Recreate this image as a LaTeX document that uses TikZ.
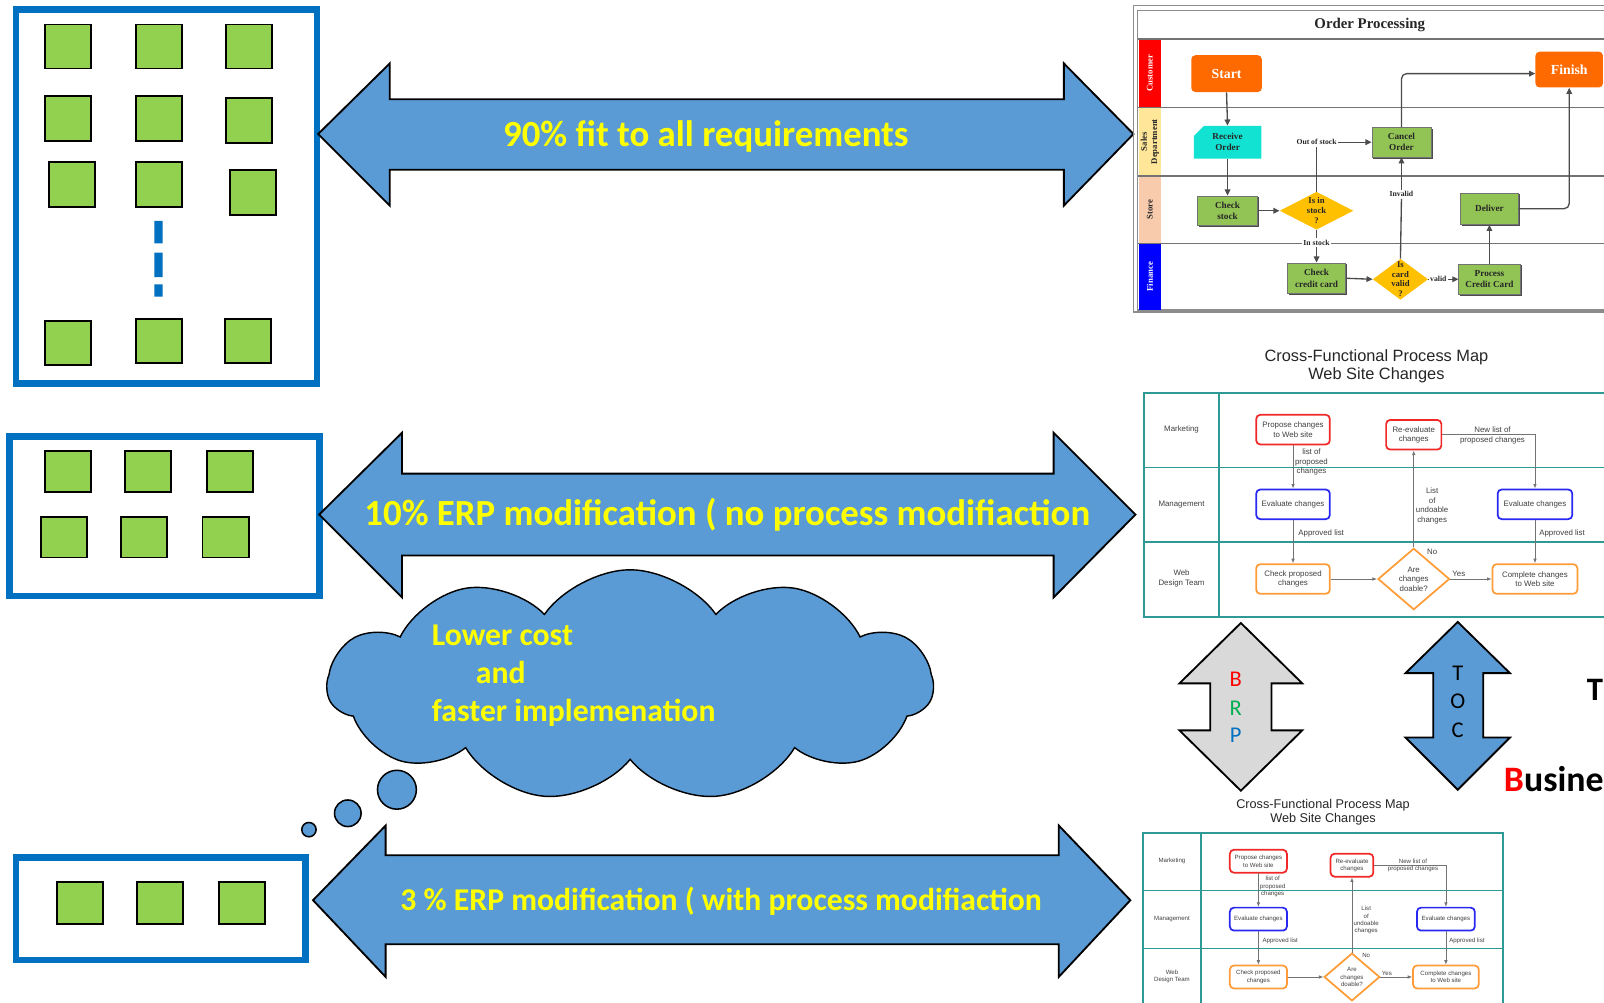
\documentclass[tikz,border=0pt]{standalone}
\usepackage{fontspec}
\setmainfont{Carlito}
\newfontfamily\arialf{Liberation Sans}
\newfontfamily\timesf{Liberation Serif}
\usetikzlibrary{shapes.geometric,shapes.symbols,shapes.misc,arrows.meta,shadows}
\definecolor{arrowblue}{HTML}{5B9BD5}
\definecolor{boxblue}{HTML}{0070C0}
\definecolor{sqgreen}{HTML}{92D050}
\definecolor{mapteal}{HTML}{2E9A96}
\definecolor{mapred}{HTML}{F02828}
\definecolor{mapblue}{HTML}{2828F0}
\definecolor{maporange}{HTML}{FF9C38}
\definecolor{oporange}{HTML}{FF6A00}
\definecolor{opcyan}{HTML}{12E2D2}
\definecolor{opgreen}{HTML}{92C355}
\definecolor{opgold}{HTML}{FFC000}
\definecolor{salesy}{HTML}{FFE699}
\definecolor{storep}{HTML}{F8CBAD}
\definecolor{brpgray}{HTML}{D9D9D9}
\definecolor{txtyellow}{HTML}{FFFF00}
\definecolor{brpgreen}{HTML}{00B050}
\newcommand{\fsz}[2]{\fontsize{#1}{#2}\selectfont}
\tikzset{
  frame/.style={draw=boxblue, line width=6.5},
  sq/.style={draw=black, line width=1.8, fill=sqgreen},
  bigarrow/.style={draw=black, line width=1.8, fill=arrowblue, line join=miter},
  arrowtext/.style={text=txtyellow, font=\bfseries\fsz{36}{40}, anchor=base, inner sep=0},
  cloudtext/.style={text=txtyellow, font=\bfseries\fsz{31}{35}, anchor=base west, inner sep=0},
  bubble/.style={circle, draw=black, line width=1.5, fill=arrowblue, inner sep=0},
  vertarrow/.style={draw=black, line width=1.8, line join=miter},
  letter/.style={font=\fsz{22}{24}, inner sep=0},
  opframe/.style={draw=black!45, line width=1.2},
  oplane/.style={draw=black!55, line width=1.3},
  optitle/.style={font=\timesf\bfseries\fsz{14.5}{16}, text=black!85, inner sep=0},
  oplanelab/.style={font=\timesf\bfseries\fsz{8.5}{10}, align=center, inner sep=0},
  optxt/.style={font=\timesf\bfseries\fsz{9}{11}, align=center, text=black!85, inner sep=1},
  opgbox/.style={optxt, rectangle, fill=opgreen, draw=black!55, line width=0.6,
     drop shadow={shadow xshift=1.5pt, shadow yshift=-1.5pt, fill=black!70, opacity=1}},
  opcard/.style={optxt, chamfered rectangle, chamfered rectangle corners=north west,
     chamfered rectangle xsep=5pt, chamfered rectangle ysep=5pt, fill=opcyan, inner sep=0},
  opterm/.style={rectangle, rounded corners=4, fill=oporange, text=white, font=\timesf\bfseries\fsz{13.5}{15}},
  opdia/.style={diamond, fill=opgold, inner sep=0},
  opdiatxt/.style={font=\timesf\bfseries\fsz{8.5}{9.5}, align=center, text=black!85, inner sep=0},
  oplab/.style={font=\timesf\bfseries\fsz{7.5}{9}, fill=white, inner sep=1.5, text=black!85},
  opline/.style={draw=black!70, line width=1.3},
  oparr/.style={opline, -{Triangle[length=6pt,width=5.5pt]}},
  mapframe/.style={draw=mapteal, line width=1.8},
  maptitle/.style={font=\arialf\fsz{16}{18}, text=black!85, inner sep=0},
  maptxt/.style={font=\arialf\fsz{7.7}{9.3}, text=black!75, align=center, inner sep=0},
  mapbox/.style={maptxt, rectangle, rounded corners=4, line width=1.7, fill=white, minimum height=29, inner sep=2},
  mapdia/.style={diamond, draw=maporange, line width=1.7, fill=white, minimum width=70, minimum height=60, inner sep=0},
  maparr/.style={draw=black!55, line width=0.8, -{Latex[length=4.5pt,width=3.5pt]}},
}
\newcommand{\webmap}[1]{%
  \draw[mapframe] (0,0) rectangle (454,219);
  \draw[mapframe] (0,73) -- (454,73) (0,146) -- (454,146) (74,0) -- (74,219);
  \node[maptitle] (#1t1) at (227.5,-35) {Cross-Functional Process Map};
  \node[maptitle] (#1t2) at (227.5,-17.5) {Web Site Changes};
  \node[maptxt] (#1l1) at (37,36) {Marketing};
  \node[maptxt] (#1l2) at (37,109) {Management};
  \node[maptxt] (#1l3) at (37,181.5) {Web\\Design Team};
  \node[mapbox, draw=mapred, minimum width=72] (#1prop) at (146,36) {Propose changes\\to Web site};
  \node[mapbox, draw=mapred, minimum width=54] (#1rev) at (264,41) {Re-evaluate\\changes};
  \node[mapbox, draw=mapblue, minimum width=72] (#1evl) at (146,109) {Evaluate changes};
  \node[mapbox, draw=mapblue, minimum width=73] (#1evr) at (382.5,109) {Evaluate changes};
  \node[mapbox, draw=maporange, minimum width=72] (#1chk) at (146,182) {Check proposed\\changes};
  \node[mapdia] (#1dia) at (264,182) {};
  \node[maptxt] (#1diat) at (264,182) {Are\\changes\\doable?};
  \node[mapbox, draw=maporange, minimum width=83] (#1cmp) at (382.5,182) {Complete changes\\to Web site};
  \draw[maparr] (#1prop.south) -- (#1evl.north);
  \draw[maparr] (#1evl.south) -- (#1chk.north);
  \draw[maparr] (#1chk.east) -- (#1dia.west);
  \draw[maparr] (#1dia.north) -- (#1rev.south);
  \draw[maparr] (#1rev.east) -| (#1evr.north);
  \draw[maparr] (#1dia.east) -- (#1cmp.west);
  \draw[maparr] (#1evr.south) -- (#1cmp.north);
  \node[maptxt] (#1e1) at (164,68) {list of\\proposed\\changes};
  \node[maptxt] (#1e2) at (173.5,137) {Approved list};
  \node[maptxt] (#1e3) at (282,110.5) {List\\of\\undoable\\changes};
  \node[maptxt] (#1e4) at (282,155) {No};
  \node[maptxt] (#1e5) at (341,41.5) {New list of\\proposed changes};
  \node[maptxt] (#1e6) at (308,177) {Yes};
  \node[maptxt] (#1e7) at (409,137) {Approved list};
}
\begin{document}
\begin{tikzpicture}[x=1pt,y=-1pt]
\clip (0,0) rectangle (1568,980);
\fill[white] (0,0) rectangle (1568,980);
% ---------- left boxes ----------
\draw[frame] (15.5,9.5) rectangle (310,375);
\foreach \a/\b/\c/\d in {44/24/89/67, 133/24/178/67, 221/24/266/67,
  44/94/89/138, 133/94/178/138, 221/96/266/140,
  48/158/93/202, 133/158/178/202, 225/166/270/210,
  44/314/89/357, 133/312/178/355, 220/312/265/355}
  \draw[sq] (\a,\b) rectangle (\c,\d);
\fill[boxblue] (151,216) rectangle (159,238) (151,247) rectangle (159,271) (151,278) rectangle (159,290);
\draw[frame] (9.5,426.5) rectangle (312.5,582.5);
\foreach \a/\b/\c/\d in {44/441/89/481, 122/441/167/481, 202/441/247/481,
  40/505/85/545, 118/505/163/545, 198/505/243/545}
  \draw[sq] (\a,\b) rectangle (\c,\d);
\draw[frame] (15.5,838.5) rectangle (298.5,938.5);
\foreach \a/\b/\c/\d in {56/862/101/903, 134/862/179/903, 214/862/259/903}
  \draw[sq] (\a,\b) rectangle (\c,\d);
% ---------- big arrows ----------
\draw[bigarrow] (311,131) -- (381,62) -- (381,97) -- (1040,97) -- (1040,62) -- (1108,131)
  -- (1040,201) -- (1040,166) -- (381,166) -- (381,201) -- cycle;
\node[arrowtext] (t1) at (690,143) {90\% fit to all requirements};
\draw[bigarrow] (312,503) -- (393,423) -- (393,463) -- (1030,463) -- (1030,423) -- (1110,503)
  -- (1030,584) -- (1030,543) -- (393,543) -- (393,584) -- cycle;
\node[arrowtext] (t2) at (711,514) {10\% ERP modification ( no process modifiaction};
\draw[bigarrow] (306,880) -- (377,807) -- (377,836) -- (1035,836) -- (1035,807) -- (1105,880)
  -- (1035,955) -- (1035,923) -- (377,923) -- (377,955) -- cycle;
\node[arrowtext, font=\bfseries\fsz{31}{35}] (t3) at (705,890) {3 \% ERP modification ( with process modifiaction};
% ---------- cloud ----------
\node[cloud, cloud puffs=11, cloud puff arc=110, aspect=2.6, draw=black, line width=1.4,
  fill=arrowblue, minimum width=592, minimum height=226] (cloud) at (616,670) {};
\node[bubble, minimum size=38] (b1) at (388,772) {};
\node[bubble, minimum size=26] (b2) at (340,795) {};
\node[bubble, minimum size=14] (b3) at (302,811) {};
\node[cloudtext] (c1) at (422,631) {Lower cost};
\node[cloudtext] (c2) at (465,668) {and};
\node[cloudtext] (c3) at (422,705) {faster implemenation};
% ---------- Order Processing ----------
\draw[opframe] (1108,5) -- (1600,5);
\draw[opframe] (1108,5) -- (1108,305) -- (1600,305);
\draw[opframe] (1112,10) -- (1600,10);
\draw[opframe] (1112,10) -- (1112,303) -- (1600,303);
\node[optitle] (optitle) at (1339,24) {Order Processing};
\fill[red] (1113,38) rectangle (1135,105);
\fill[salesy] (1113,105) rectangle (1135,172);
\fill[storep] (1113,172) rectangle (1135,238);
\fill[blue] (1113,238) rectangle (1135,303);
\draw[oplane] (1112,38) -- (1600,38) (1112,105) -- (1600,105) (1112,172) -- (1600,172) (1112,238) -- (1600,238);
\node[oplanelab, rotate=90, text=white] (lc) at (1124,71.5) {Customer};
\node[oplanelab, rotate=90, text=black!85] (ls) at (1124,138.5) {Sales\\Department};
\node[oplanelab, rotate=90, text=black!85] (lst) at (1124,205) {Store};
\node[oplanelab, rotate=90, text=white] (lf) at (1124,270.5) {Finance};
\node[opterm, minimum width=69, minimum height=36] (start) at (1199,72) {Start};
\node[opterm, minimum width=66, minimum height=35] (finish) at (1534,68) {Finish};
\draw[fill=opgreen, draw=black!60, line width=0.6] (1219,123) rectangle (1230,135);
\node[opcard, minimum width=66, minimum height=32] (recv) at (1200,139) {Receive\\Order};
\node[opgbox, minimum width=58, minimum height=29] (cancel) at (1370,139) {Cancel\\Order};
\node[opgbox, minimum width=59, minimum height=29] (cstock) at (1200,206) {Check\\stock};
\node[opdia, minimum width=72, minimum height=37] (d1) at (1287,206) {};
\node[opdiatxt] (d1t) at (1287,206) {Is in\\stock\\?};
\node[opgbox, minimum width=56, minimum height=31] (deliver) at (1456,204) {Deliver};
\node[opgbox, minimum width=57, minimum height=30] (ccard) at (1287,272) {Check\\credit card};
\node[opdia, minimum width=54, minimum height=40] (d2) at (1369,273) {};
\node[opdiatxt] (d2t) at (1369,273) {Is\\card\\valid\\?};
\node[opgbox, minimum width=60, minimum height=30] (pcc) at (1456,273) {Process\\Credit Card};
\draw[oparr] (start.south) -- (recv.north);
\draw[oparr] (recv.south) -- (cstock.north);
\draw[oparr] (cstock.east) -- (d1.west);
\node[oplab] (oos) at (1287,139) {Out of stock};
\draw[opline] (d1.north) -- (oos.south);
\draw[oparr] (oos.east) -- (cancel.west);
\node[oplab] (ins) at (1287,237) {In stock};
\draw[opline] (d1.south) -- (ins.north);
\draw[oparr] (ins.south) -- (ccard.north);
\draw[oparr] (ccard.east) -- (d2.west);
\node[oplab] (inv) at (1370,190) {Invalid};
\draw[opline] (d2.north) -- (inv.south);
\draw[oparr] (inv.north) -- (cancel.south);
\node[oplab] (val) at (1406,273) {valid};
\draw[opline] (d2.east) -- (val.west);
\draw[oparr] (val.east) -- (pcc.west);
\draw[oparr] (pcc.north) -- (deliver.south);
\draw[oparr, rounded corners=5] (deliver.east) -| (finish.south);
\draw[oparr, rounded corners=5] (cancel.north) |- ([yshift=-4pt]finish.west);
% ---------- web maps ----------
\begin{scope}[shift={(1118,384)}]
  \webmap{ma}
\end{scope}
\begin{scope}[shift={(1117,814)}, scale=0.775, transform shape]
  \webmap{mb}
\end{scope}
% ---------- BRP / TOC ----------
\draw[vertarrow, fill=brpgray] (1213,609) -- (1273,668) -- (1243,668) -- (1243,714) -- (1273,714)
  -- (1213,773) -- (1153,714) -- (1183,714) -- (1183,668) -- (1153,668) -- cycle;
\node[letter, text=red] (lb) at (1208,664) {B};
\node[letter, text=brpgreen] (lr) at (1208,692) {R};
\node[letter, text=boxblue] (lp) at (1208,719) {P};
\draw[vertarrow, fill=arrowblue] (1425,608) -- (1476,658) -- (1450,658) -- (1450,721) -- (1476,721)
  -- (1425,772) -- (1374,721) -- (1401,721) -- (1401,658) -- (1374,658) -- cycle;
\node[letter] (lt) at (1425,658) {T};
\node[letter] (lo) at (1425,686) {O};
\node[letter] (lcc) at (1425,714) {C};
\node[font=\bfseries\fsz{32}{36}, anchor=west, inner sep=0] (bigT) at (1551,674) {T};
\node[font=\bfseries\fsz{35}{38}, anchor=base west, inner sep=0] (bus) at (1470,774) {{\color{red}B}usiness};
\end{tikzpicture}
\end{document}
